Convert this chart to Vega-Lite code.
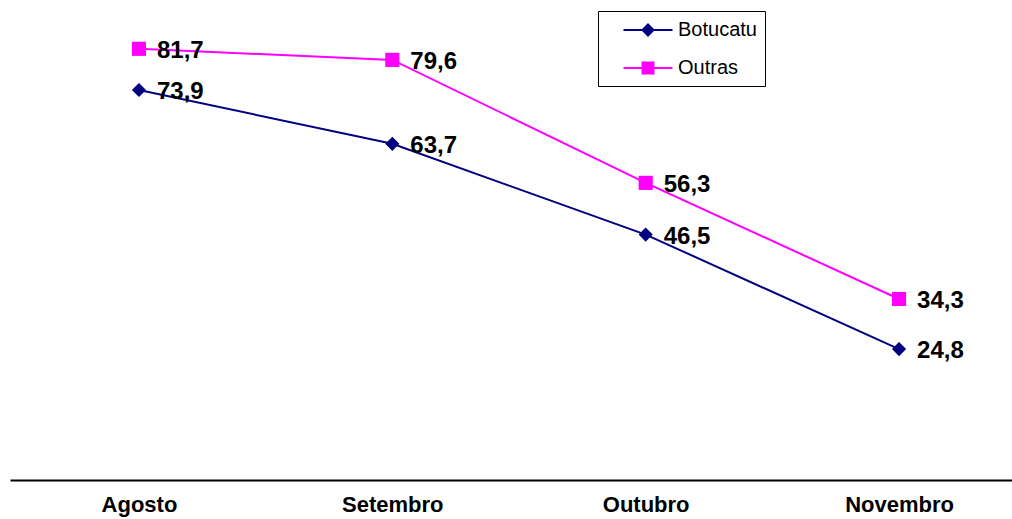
{
  "$schema": "https://vega.github.io/schema/vega-lite/v6.json",
  "width": 1018,
  "height": 475,
  "autosize": {"type": "none"},
  "padding": {"left": 10, "top": 5, "right": 0, "bottom": 39},
  "background": "white",
  "config": {
    "view": {"stroke": null},
    "font": "Liberation Sans",
    "locale": {"number": {"decimal": ",", "thousands": ".", "grouping": [3], "currency": ["R$", ""]}}
  },
  "data": {
    "values": [
      {"mes": "Agosto", "serie": "Botucatu", "valor": 73.9},
      {"mes": "Setembro", "serie": "Botucatu", "valor": 63.7},
      {"mes": "Outubro", "serie": "Botucatu", "valor": 46.5},
      {"mes": "Novembro", "serie": "Botucatu", "valor": 24.8},
      {"mes": "Agosto", "serie": "Outras", "valor": 81.7},
      {"mes": "Setembro", "serie": "Outras", "valor": 79.6},
      {"mes": "Outubro", "serie": "Outras", "valor": 56.3},
      {"mes": "Novembro", "serie": "Outras", "valor": 34.3}
    ]
  },
  "encoding": {
    "x": {
      "field": "mes", "type": "ordinal",
      "sort": ["Agosto", "Setembro", "Outubro", "Novembro"],
      "scale": {"type": "point", "padding": 0.509},
      "axis": {
        "title": null, "labelAngle": 0, "ticks": false, "grid": false,
        "domainColor": "black", "domainWidth": 2,
        "labelFont": "Liberation Sans", "labelFontSize": 22, "labelFontWeight": "bold",
        "labelColor": "black", "labelPadding": 14
      }
    },
    "y": {
      "field": "valor", "type": "quantitative",
      "scale": {"domain": [0, 90], "nice": false, "zero": true},
      "axis": null
    },
    "color": {
      "field": "serie", "type": "nominal",
      "scale": {"domain": ["Botucatu", "Outras"], "range": ["#000080", "#ff00ff"]},
      "legend": {
        "title": null, "orient": "none", "legendX": 588, "legendY": 6,
        "strokeColor": "black", "fillColor": "white",
        "padding": 8, "rowPadding": 17, "symbolOffset": 31, "labelOffset": 19,
        "symbolSize": 400, "symbolStrokeWidth": 2,
        "labelFont": "Liberation Sans", "labelFontSize": 20, "labelColor": "black",
        "encode": {
          "symbols": {
            "update": {
              "fill": {"signal": "scale('color', datum.value)"},
              "stroke": {"signal": "scale('color', datum.value)"},
              "strokeWidth": {"value": 2},
              "opacity": {"value": 1}
            }
          }
        }
      }
    }
  },
  "layer": [
    {"mark": {"type": "line", "strokeWidth": 2}},
    {
      "transform": [{"filter": "datum.serie === 'Botucatu'"}],
      "mark": {"type": "point", "shape": "diamond", "filled": true, "opacity": 1, "size": 200}
    },
    {
      "transform": [{"filter": "datum.serie === 'Outras'"}],
      "mark": {"type": "point", "shape": "square", "filled": true, "opacity": 1, "size": 200}
    },
    {
      "mark": {"type": "point", "filled": true, "size": 0},
      "encoding": {
        "shape": {
          "field": "serie", "type": "nominal",
          "scale": {"domain": ["Botucatu", "Outras"], "range": ["M-2.45,0H2.45M0,-0.55L0.55,0L0,0.55L-0.55,0Z", "M-2.45,0H2.45M-0.55,-0.55H0.55V0.55H-0.55Z"]}
        }
      }
    },
    {
      "mark": {"type": "text", "align": "left", "baseline": "middle", "dx": 18, "dy": 2, "fontSize": 24, "fontWeight": "bold", "font": "Liberation Sans", "color": "black"},
      "encoding": {
        "text": {"field": "valor", "type": "quantitative", "format": ".1f"},
        "color": {"value": "black"}
      }
    }
  ]
}
